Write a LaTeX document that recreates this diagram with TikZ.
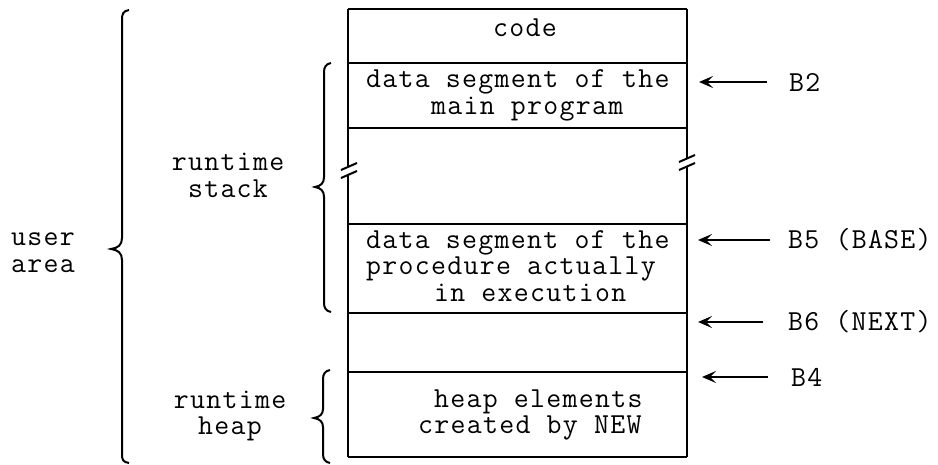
\documentclass[tikz,border=0pt]{standalone}
\usepackage{fontspec}
\setmonofont{Latin Modern Mono}[LetterSpace=4.5]
\usetikzlibrary{arrows.meta}
\begin{document}
\begin{tikzpicture}[x=0.5pt,y=-0.5pt, line width=1.1pt,
  txt/.style={font=\ttfamily\fontsize{14.5}{13.4}\selectfont, inner sep=0pt},
  ptr/.style={-{Stealth[length=7pt,width=6pt,inset=3pt]}, line width=1pt},
  brc/.style={line width=1pt}]
\useasboundingbox (0,0) rectangle (938,465);
% horizontal lines of the memory box
\draw (348,9) -- (687,9);
\draw (348,63) -- (687,63);
\draw (348,128) -- (687,128);
\draw (348,224) -- (687,224);
\draw (348,313) -- (687,313);
\draw (348,372) -- (687,372);
\draw (348,457) -- (687,457);
% vertical lines with breaks
\draw (348,9) -- (348,167);
\draw (348,175) -- (348,457);
\draw (687,9) -- (687,159);
\draw (687,167) -- (687,457);
\draw[line width=1pt] (341,170) -- (357,163);
\draw[line width=1pt] (341,178) -- (357,171);
\draw[line width=1pt] (679,162) -- (695,155);
\draw[line width=1pt] (679,170) -- (695,163);
% texts in the box
\node[txt] (code) at (525,28) {code};
\node[txt, anchor=west, align=left] (main) at (365,95) {data segment of the\\\hspace*{32.5pt}main program};
\node[txt, anchor=west, align=left] (proc) at (365,266) {data segment of the\\procedure actually\\\hspace*{34pt}in execution};
\node[txt, anchor=west, align=left] (heap) at (417,415) {\hspace*{8pt}heap elements\\created by NEW};
% left labels
\node[txt, anchor=west, align=left] (user) at (10,253) {user\\area};
\node[txt, align=center] (stack) at (228,175) {runtime\\stack};
\node[txt, align=center] (rheap) at (230,416) {runtime\\heap};
% braces
\draw[brc] (129,10) .. controls (123,11) and (122,14) .. (122,20) -- (122,238) .. controls (122,245) and (118,248) .. (111,249) .. controls (118,250) and (122,253) .. (122,260) -- (122,454) .. controls (122,460) and (123,462) .. (129,463);
\draw[brc] (331,63) .. controls (326,64) and (324,67) .. (324,72) -- (324,177) .. controls (324,183) and (321,186) .. (315,187) .. controls (321,188) and (324,191) .. (324,197) -- (324,303) .. controls (324,308) and (326,311) .. (331,312);
\draw[brc] (330,370) .. controls (325,371) and (323,374) .. (323,379) -- (323,409) .. controls (323,414) and (320,417) .. (314,418) .. controls (320,419) and (323,422) .. (323,427) -- (323,454) .. controls (323,459) and (325,462) .. (330,463);
% pointers
\node[txt, anchor=west] (b2) at (788,82) {B2};
\node[txt, anchor=west] (b5) at (787,240) {B5 (BASE)};
\node[txt, anchor=west] (b6) at (787,322) {B6 (NEXT)};
\node[txt, anchor=west] (b4) at (790,377) {B4};
\coordinate (t2) at (767,82);  \coordinate (h2) at (699,82);
\coordinate (t5) at (770,240); \coordinate (h5) at (698,240);
\coordinate (t6) at (763,322); \coordinate (h6) at (698,322);
\coordinate (t4) at (768,377); \coordinate (h4) at (702,377);
\draw[ptr] (t2) -- (h2);
\draw[ptr] (t5) -- (h5);
\draw[ptr] (t6) -- (h6);
\draw[ptr] (t4) -- (h4);
\end{tikzpicture}
\end{document}
